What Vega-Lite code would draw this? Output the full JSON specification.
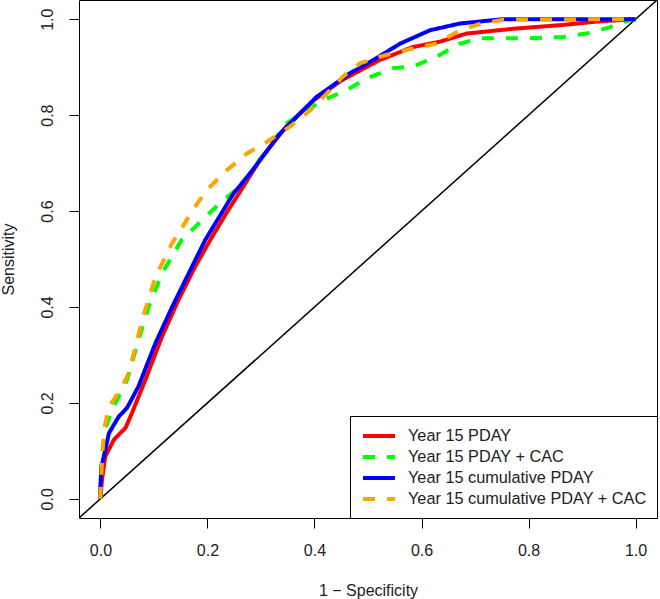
{
  "$schema": "https://vega.github.io/schema/vega-lite/v6.json",
  "width": 578,
  "height": 518,
  "autosize": {"type": "none"},
  "padding": {"left": 79, "top": 0, "right": 3, "bottom": 81},
  "background": "white",
  "config": {
    "font": "Liberation Sans",
    "view": {"stroke": "black", "strokeWidth": 1},
    "axis": {
      "grid": false,
      "domain": false,
      "tickColor": "black",
      "tickSize": 10,
      "tickWidth": 1,
      "labelFont": "Liberation Sans",
      "labelFontSize": 16,
      "labelColor": "#222222",
      "titleFont": "Liberation Sans",
      "titleFontSize": 16,
      "titleFontWeight": "normal",
      "titleColor": "#222222"
    }
  },
  "datasets": {
    "roc": [
      {"series": "Year 15 PDAY", "fpr": 0, "tpr": 0},
      {"series": "Year 15 PDAY", "fpr": 0.003, "tpr": 0.04},
      {"series": "Year 15 PDAY", "fpr": 0.009, "tpr": 0.088},
      {"series": "Year 15 PDAY", "fpr": 0.025, "tpr": 0.123},
      {"series": "Year 15 PDAY", "fpr": 0.047, "tpr": 0.148},
      {"series": "Year 15 PDAY", "fpr": 0.059, "tpr": 0.179},
      {"series": "Year 15 PDAY", "fpr": 0.084, "tpr": 0.248},
      {"series": "Year 15 PDAY", "fpr": 0.115, "tpr": 0.338},
      {"series": "Year 15 PDAY", "fpr": 0.146, "tpr": 0.415},
      {"series": "Year 15 PDAY", "fpr": 0.177, "tpr": 0.484},
      {"series": "Year 15 PDAY", "fpr": 0.208, "tpr": 0.545},
      {"series": "Year 15 PDAY", "fpr": 0.235, "tpr": 0.595},
      {"series": "Year 15 PDAY", "fpr": 0.267, "tpr": 0.651},
      {"series": "Year 15 PDAY", "fpr": 0.3, "tpr": 0.71},
      {"series": "Year 15 PDAY", "fpr": 0.35, "tpr": 0.78},
      {"series": "Year 15 PDAY", "fpr": 0.4, "tpr": 0.832},
      {"series": "Year 15 PDAY", "fpr": 0.45, "tpr": 0.872},
      {"series": "Year 15 PDAY", "fpr": 0.522, "tpr": 0.915},
      {"series": "Year 15 PDAY", "fpr": 0.584, "tpr": 0.942},
      {"series": "Year 15 PDAY", "fpr": 0.634, "tpr": 0.953},
      {"series": "Year 15 PDAY", "fpr": 0.684, "tpr": 0.97},
      {"series": "Year 15 PDAY", "fpr": 0.771, "tpr": 0.98},
      {"series": "Year 15 PDAY", "fpr": 0.864, "tpr": 0.988},
      {"series": "Year 15 PDAY", "fpr": 0.927, "tpr": 0.995},
      {"series": "Year 15 PDAY", "fpr": 0.97, "tpr": 0.998},
      {"series": "Year 15 PDAY", "fpr": 1, "tpr": 1},

      {"series": "Year 15 PDAY + CAC", "fpr": 0, "tpr": 0},
      {"series": "Year 15 PDAY + CAC", "fpr": 0, "tpr": 0.04},
      {"series": "Year 15 PDAY + CAC", "fpr": 0.003, "tpr": 0.088},
      {"series": "Year 15 PDAY + CAC", "fpr": 0.008, "tpr": 0.14},
      {"series": "Year 15 PDAY + CAC", "fpr": 0.019, "tpr": 0.179},
      {"series": "Year 15 PDAY + CAC", "fpr": 0.034, "tpr": 0.213},
      {"series": "Year 15 PDAY + CAC", "fpr": 0.05, "tpr": 0.248},
      {"series": "Year 15 PDAY + CAC", "fpr": 0.071, "tpr": 0.331},
      {"series": "Year 15 PDAY + CAC", "fpr": 0.09, "tpr": 0.4},
      {"series": "Year 15 PDAY + CAC", "fpr": 0.115, "tpr": 0.47},
      {"series": "Year 15 PDAY + CAC", "fpr": 0.152, "tpr": 0.54},
      {"series": "Year 15 PDAY + CAC", "fpr": 0.19, "tpr": 0.581},
      {"series": "Year 15 PDAY + CAC", "fpr": 0.224, "tpr": 0.617},
      {"series": "Year 15 PDAY + CAC", "fpr": 0.261, "tpr": 0.651},
      {"series": "Year 15 PDAY + CAC", "fpr": 0.311, "tpr": 0.727},
      {"series": "Year 15 PDAY + CAC", "fpr": 0.348, "tpr": 0.783},
      {"series": "Year 15 PDAY + CAC", "fpr": 0.416, "tpr": 0.831},
      {"series": "Year 15 PDAY + CAC", "fpr": 0.46, "tpr": 0.852},
      {"series": "Year 15 PDAY + CAC", "fpr": 0.498, "tpr": 0.877},
      {"series": "Year 15 PDAY + CAC", "fpr": 0.547, "tpr": 0.898},
      {"series": "Year 15 PDAY + CAC", "fpr": 0.584, "tpr": 0.901},
      {"series": "Year 15 PDAY + CAC", "fpr": 0.628, "tpr": 0.922},
      {"series": "Year 15 PDAY + CAC", "fpr": 0.672, "tpr": 0.949},
      {"series": "Year 15 PDAY + CAC", "fpr": 0.709, "tpr": 0.96},
      {"series": "Year 15 PDAY + CAC", "fpr": 0.8, "tpr": 0.96},
      {"series": "Year 15 PDAY + CAC", "fpr": 0.864, "tpr": 0.963},
      {"series": "Year 15 PDAY + CAC", "fpr": 0.908, "tpr": 0.97},
      {"series": "Year 15 PDAY + CAC", "fpr": 0.951, "tpr": 0.983},
      {"series": "Year 15 PDAY + CAC", "fpr": 0.989, "tpr": 0.998},
      {"series": "Year 15 PDAY + CAC", "fpr": 1, "tpr": 1},

      {"series": "Year 15 cumulative PDAY", "fpr": 0, "tpr": 0},
      {"series": "Year 15 cumulative PDAY", "fpr": 0, "tpr": 0.026},
      {"series": "Year 15 cumulative PDAY", "fpr": 0.002, "tpr": 0.067},
      {"series": "Year 15 cumulative PDAY", "fpr": 0.016, "tpr": 0.137},
      {"series": "Year 15 cumulative PDAY", "fpr": 0.034, "tpr": 0.171},
      {"series": "Year 15 cumulative PDAY", "fpr": 0.05, "tpr": 0.19},
      {"series": "Year 15 cumulative PDAY", "fpr": 0.071, "tpr": 0.234},
      {"series": "Year 15 cumulative PDAY", "fpr": 0.103, "tpr": 0.325},
      {"series": "Year 15 cumulative PDAY", "fpr": 0.134, "tpr": 0.4},
      {"series": "Year 15 cumulative PDAY", "fpr": 0.165, "tpr": 0.47},
      {"series": "Year 15 cumulative PDAY", "fpr": 0.196, "tpr": 0.54},
      {"series": "Year 15 cumulative PDAY", "fpr": 0.249, "tpr": 0.637},
      {"series": "Year 15 cumulative PDAY", "fpr": 0.28, "tpr": 0.679},
      {"series": "Year 15 cumulative PDAY", "fpr": 0.336, "tpr": 0.762},
      {"series": "Year 15 cumulative PDAY", "fpr": 0.404, "tpr": 0.838},
      {"series": "Year 15 cumulative PDAY", "fpr": 0.466, "tpr": 0.887},
      {"series": "Year 15 cumulative PDAY", "fpr": 0.51, "tpr": 0.915},
      {"series": "Year 15 cumulative PDAY", "fpr": 0.56, "tpr": 0.949},
      {"series": "Year 15 cumulative PDAY", "fpr": 0.616, "tpr": 0.977},
      {"series": "Year 15 cumulative PDAY", "fpr": 0.672, "tpr": 0.991},
      {"series": "Year 15 cumulative PDAY", "fpr": 0.752, "tpr": 1},
      {"series": "Year 15 cumulative PDAY", "fpr": 1, "tpr": 1},

      {"series": "Year 15 cumulative PDAY + CAC", "fpr": 0, "tpr": 0},
      {"series": "Year 15 cumulative PDAY + CAC", "fpr": 0, "tpr": 0.01},
      {"series": "Year 15 cumulative PDAY + CAC", "fpr": 0.004, "tpr": 0.1},
      {"series": "Year 15 cumulative PDAY + CAC", "fpr": 0.008, "tpr": 0.15},
      {"series": "Year 15 cumulative PDAY + CAC", "fpr": 0.016, "tpr": 0.192},
      {"series": "Year 15 cumulative PDAY + CAC", "fpr": 0.037, "tpr": 0.227},
      {"series": "Year 15 cumulative PDAY + CAC", "fpr": 0.053, "tpr": 0.262},
      {"series": "Year 15 cumulative PDAY + CAC", "fpr": 0.078, "tpr": 0.373},
      {"series": "Year 15 cumulative PDAY + CAC", "fpr": 0.103, "tpr": 0.463},
      {"series": "Year 15 cumulative PDAY + CAC", "fpr": 0.134, "tpr": 0.533},
      {"series": "Year 15 cumulative PDAY + CAC", "fpr": 0.177, "tpr": 0.609},
      {"series": "Year 15 cumulative PDAY + CAC", "fpr": 0.199, "tpr": 0.644},
      {"series": "Year 15 cumulative PDAY + CAC", "fpr": 0.236, "tpr": 0.685},
      {"series": "Year 15 cumulative PDAY + CAC", "fpr": 0.274, "tpr": 0.72},
      {"series": "Year 15 cumulative PDAY + CAC", "fpr": 0.311, "tpr": 0.744},
      {"series": "Year 15 cumulative PDAY + CAC", "fpr": 0.354, "tpr": 0.776},
      {"series": "Year 15 cumulative PDAY + CAC", "fpr": 0.392, "tpr": 0.81},
      {"series": "Year 15 cumulative PDAY + CAC", "fpr": 0.423, "tpr": 0.845},
      {"series": "Year 15 cumulative PDAY + CAC", "fpr": 0.453, "tpr": 0.88},
      {"series": "Year 15 cumulative PDAY + CAC", "fpr": 0.485, "tpr": 0.908},
      {"series": "Year 15 cumulative PDAY + CAC", "fpr": 0.522, "tpr": 0.922},
      {"series": "Year 15 cumulative PDAY + CAC", "fpr": 0.584, "tpr": 0.939},
      {"series": "Year 15 cumulative PDAY + CAC", "fpr": 0.628, "tpr": 0.949},
      {"series": "Year 15 cumulative PDAY + CAC", "fpr": 0.672, "tpr": 0.977},
      {"series": "Year 15 cumulative PDAY + CAC", "fpr": 0.709, "tpr": 0.99},
      {"series": "Year 15 cumulative PDAY + CAC", "fpr": 0.752, "tpr": 0.999},
      {"series": "Year 15 cumulative PDAY + CAC", "fpr": 1, "tpr": 1}
    ],
    "diag": [
      {"fpr": -0.04, "tpr": -0.04},
      {"fpr": 1.04, "tpr": 1.04}
    ]
  },
  "encoding": {
    "x": {
      "field": "fpr", "type": "quantitative",
      "scale": {"domain": [-0.04, 1.04], "nice": false, "zero": false},
      "axis": {"values": [0, 0.2, 0.4, 0.6, 0.8, 1], "format": ".1f", "title": "1 \u2212 Specificity", "labelPadding": 14, "titlePadding": 24}
    },
    "y": {
      "field": "tpr", "type": "quantitative",
      "scale": {"domain": [-0.04, 1.04], "nice": false, "zero": false},
      "axis": {"values": [0, 0.2, 0.4, 0.6, 0.8, 1], "format": ".1f", "title": "Sensitivity", "labelAngle": -90, "labelAlign": "center", "labelBaseline": "alphabetic", "labelPadding": 17, "titlePadding": 23}
    }
  },
  "layer": [
    {
      "data": {"name": "diag"},
      "mark": {"type": "line", "color": "black", "strokeWidth": 1.5, "clip": true},
      "encoding": {}
    },
    {
      "data": {"name": "roc"},
      "transform": [{"filter": "datum.series === 'Year 15 PDAY'"}],
      "mark": {"type": "line", "strokeWidth": 4, "clip": true},
      "encoding": {
        "color": {"field": "series", "type": "nominal"},
        "strokeDash": {"field": "series", "type": "nominal"}
      }
    },
    {
      "data": {"name": "roc"},
      "transform": [{"filter": "datum.series === 'Year 15 PDAY + CAC'"}],
      "mark": {"type": "line", "strokeWidth": 4, "clip": true},
      "encoding": {
        "color": {"field": "series", "type": "nominal"},
        "strokeDash": {"field": "series", "type": "nominal"}
      }
    },
    {
      "data": {"name": "roc"},
      "transform": [{"filter": "datum.series === 'Year 15 cumulative PDAY'"}],
      "mark": {"type": "line", "strokeWidth": 4, "clip": true},
      "encoding": {
        "color": {"field": "series", "type": "nominal"},
        "strokeDash": {"field": "series", "type": "nominal"}
      }
    },
    {
      "data": {"name": "roc"},
      "transform": [{"filter": "datum.series === 'Year 15 cumulative PDAY + CAC'"}],
      "mark": {"type": "line", "strokeWidth": 4, "clip": true},
      "encoding": {
        "color": {
          "field": "series", "type": "nominal",
          "scale": {
            "domain": ["Year 15 PDAY", "Year 15 PDAY + CAC", "Year 15 cumulative PDAY", "Year 15 cumulative PDAY + CAC"],
            "range": ["#FF0000", "#00FF00", "#0000FF", "#FFA500"]
          },
          "legend": {
            "title": null,
            "orient": "bottom-right",
            "offset": 0,
            "strokeColor": "black",
            "fillColor": "white",
            "padding": 10,
            "symbolType": "M-2,0H2",
            "symbolSize": 256,
            "symbolStrokeWidth": 4,
            "symbolOffset": 9,
            "labelFontSize": 16.3,
            "labelFont": "Liberation Sans",
            "labelColor": "#222222",
            "labelOffset": 19,
            "rowPadding": 2,
            "labelLimit": 400
          }
        },
        "strokeDash": {
          "field": "series", "type": "nominal",
          "scale": {
            "domain": ["Year 15 PDAY", "Year 15 PDAY + CAC", "Year 15 cumulative PDAY", "Year 15 cumulative PDAY + CAC"],
            "range": [[1, 0], [12, 12], [1, 0], [12, 12]]
          },
          "legend": null
        }
      }
    }
  ]
}
